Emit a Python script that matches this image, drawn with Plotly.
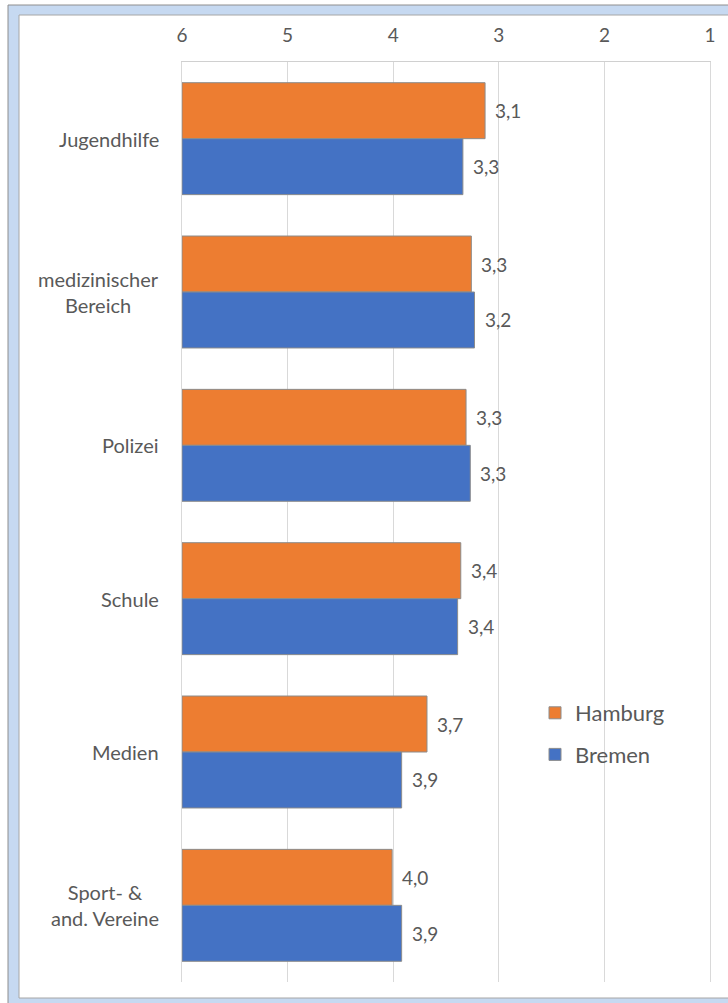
import plotly.graph_objects as go

categories = ["Jugendhilfe", "medizinischer<br>Bereich", "Polizei", "Schule", "Medien", "Sport- &<br>and. Vereine"]
hamburg = [3.13, 3.26, 3.31, 3.36, 3.68, 4.01]
bremen = [3.34, 3.23, 3.27, 3.39, 3.92, 3.92]
tick_vals = [6, 5, 4, 3, 2, 1]

ORANGE = "#ED7D31"
BLUE = "#4472C4"
TXT = "#595959"
FONT = "Lato"

W, H = 728, 1003
ML, MR, MT, MB = 182, 18, 62, 21
PW, PH = W - ML - MR, H - MT - MB


def px_x(p):
    return (p - ML) / PW


def px_y(p):
    return (H - MB - p) / PH


BASE = 6
BARGAP = 0.27

fig = go.Figure()
fig.add_trace(go.Bar(
    y=categories, x=[v - BASE for v in hamburg], base=BASE, orientation="h",
    name="Hamburg", legendgroup="a",
    marker=dict(color=ORANGE, line=dict(color="#8c8c8c", width=1)),
))
fig.add_trace(go.Bar(
    y=categories, x=[v - BASE for v in bremen], base=BASE, orientation="h",
    name="Bremen", legendgroup="b",
    marker=dict(color=BLUE, line=dict(color="#8c8c8c", width=1)),
))

annotations = []
off = (1 - BARGAP) / 4
for i, cat in enumerate(categories):
    annotations.append(dict(
        x=px_x(161), xref="paper", y=i, yref="y", text=cat, showarrow=False,
        xanchor="right", yanchor="middle", align="center",
        font=dict(family=FONT, size=20, color=TXT),
    ))
    for v, d in ((hamburg[i], -off), (bremen[i], off)):
        annotations.append(dict(
            x=v, xref="x", y=i + d, yref="y", text=f"{v:.1f}".replace(".", ","),
            showarrow=False, xanchor="left", yanchor="middle", xshift=8,
            font=dict(family=FONT, size=19, color=TXT),
        ))

shapes = [
    dict(type="rect", xref="paper", yref="paper", layer="below",
         x0=px_x(8), x1=px_x(745), y0=px_y(1012), y1=px_y(5),
         fillcolor="#c6d9f1", line=dict(color="#8e8e8e", width=1)),
    dict(type="rect", xref="paper", yref="paper", layer="below",
         x0=px_x(19), x1=px_x(745), y0=px_y(998), y1=px_y(15),
         fillcolor="white", line=dict(color="#a6a6a6", width=1)),
]

fig.update_layout(
    width=W, height=H,
    margin=dict(l=ML, r=MR, t=MT, b=MB),
    paper_bgcolor="white", plot_bgcolor="rgba(0,0,0,0)",
    barmode="group", bargap=BARGAP, bargroupgap=0,
    font=dict(family=FONT, color=TXT),
    xaxis=dict(
        side="top", range=[6, 1], tickvals=tick_vals,
        ticktext=[str(t) for t in tick_vals],
        showgrid=True, gridcolor="#d9d9d9", gridwidth=1,
        showline=True, linecolor="#d0d0d0", linewidth=1,
        zeroline=False, ticks="", ticklabelstandoff=11,
        tickfont=dict(family=FONT, size=19, color=TXT),
    ),
    yaxis=dict(
        autorange="reversed", showticklabels=False, showgrid=False,
        showline=True, linecolor="#d9d9d9", mirror=True, zeroline=False, ticks="",
    ),
    legend=dict(
        x=px_x(535), y=px_y(692), xanchor="left", yanchor="top",
        traceorder="grouped", tracegroupgap=10,
        font=dict(family=FONT, size=22, color=TXT),
        bgcolor="rgba(0,0,0,0)",
    ),
    annotations=annotations,
    shapes=shapes,
    showlegend=True,
)

fig.write_html(
    "out.html",
    config={"displayModeBar": False},
    post_script="document.body.style.margin='0';document.body.style.overflow='hidden';",
)
